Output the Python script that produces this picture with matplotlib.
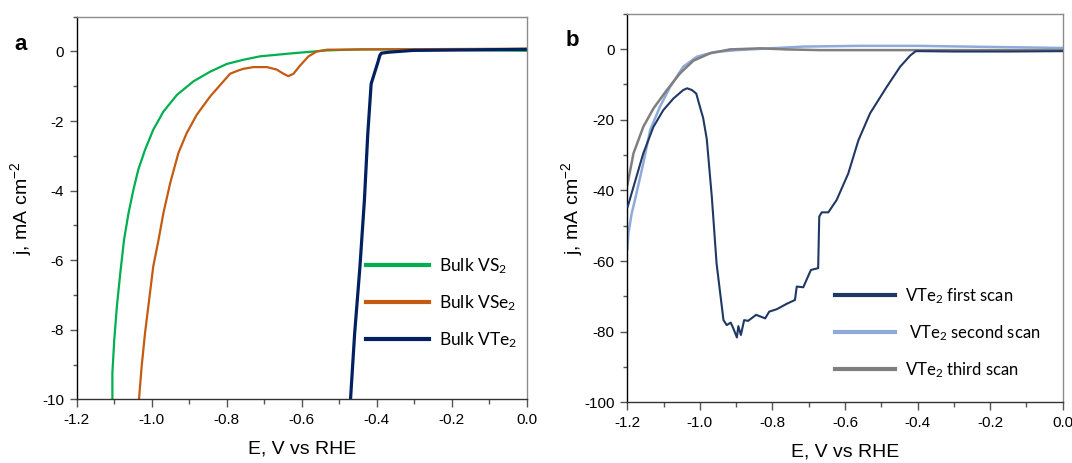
import matplotlib
matplotlib.use("Agg")
import matplotlib.pyplot as plt
from matplotlib.ticker import MultipleLocator, FormatStrFormatter

plt.rcParams['font.family'] = ['Liberation Sans', 'DejaVu Sans']
plt.rcParams['mathtext.default'] = 'regular'
plt.rcParams['axes.unicode_minus'] = False

# ---- panel a: bulk VX2 polarisation curves ----
vs2_E = [-1.105, -1.105, -1.100, -1.093, -1.084, -1.074, -1.062, -1.049, -1.036, -1.018,
         -0.996, -0.969, -0.933, -0.889, -0.844, -0.800, -0.756, -0.711, -0.622, -0.533,
         -0.445, -0.300, -0.150, 0.0]
vs2_j = [-10.0, -9.25, -8.29, -7.33, -6.38, -5.42, -4.65, -3.98, -3.40, -2.83,
         -2.25, -1.73, -1.25, -0.86, -0.58, -0.36, -0.24, -0.14, -0.05, 0.03,
         0.06, 0.06, 0.04, 0.02]

vse2_E = [-1.034, -1.027, -1.018, -1.007, -0.996, -0.982, -0.969, -0.951, -0.929, -0.907,
          -0.880, -0.844, -0.809, -0.791, -0.770, -0.756, -0.729, -0.693, -0.667, -0.649,
          -0.636, -0.622, -0.604, -0.582, -0.560, -0.533, -0.400, -0.200, 0.0]
vse2_j = [-10.0, -9.06, -8.10, -7.14, -6.18, -5.42, -4.65, -3.79, -2.92, -2.35,
          -1.82, -1.29, -0.86, -0.64, -0.55, -0.50, -0.45, -0.45, -0.52, -0.64,
          -0.71, -0.64, -0.40, -0.14, 0.0, 0.05, 0.06, 0.07, 0.08]

vte2_E = [-0.470, -0.459, -0.445, -0.433, -0.424, -0.415, -0.404, -0.397, -0.392, -0.388,
          -0.367, -0.303, 0.0]
vte2_j = [-10.0, -8.11, -6.2, -4.28, -2.37, -0.93, -0.55, -0.31, -0.12, -0.05,
          -0.02, 0.03, 0.06]

# ---- panel b: VTe2 repeated scans ----
scan1_E = [-1.199, -1.183, -1.156, -1.128, -1.101, -1.073, -1.055, -1.046, -1.035, -1.022,
           -1.010, -1.000, -0.991, -0.981, -0.967, -0.954, -0.935, -0.926, -0.915, -0.908,
           -0.898, -0.894, -0.887, -0.878, -0.867, -0.845, -0.820, -0.809, -0.788, -0.761,
           -0.738, -0.733, -0.715, -0.694, -0.674, -0.671, -0.664, -0.646, -0.623, -0.591,
           -0.563, -0.531, -0.485, -0.448, -0.420, -0.405, -0.390, -0.300, -0.150, 0.0]
scan1_j = [-44.6, -39.0, -29.5, -22.0, -17.3, -14.0, -12.4, -11.6, -11.1, -11.6,
           -12.6, -16.3, -19.5, -25.5, -42.0, -60.7, -76.7, -78.1, -77.4, -79.0,
           -81.6, -78.4, -80.9, -76.7, -76.9, -75.2, -76.2, -74.3, -73.6, -72.1,
           -71.0, -67.2, -67.4, -62.5, -62.0, -47.4, -46.2, -46.2, -42.7, -35.2,
           -25.8, -18.2, -10.7, -5.0, -1.8, -0.6, -0.6, -0.7, -0.7, -0.6]

scan2_E = [-1.200, -1.197, -1.188, -1.179, -1.156, -1.137, -1.110, -1.082, -1.046, -1.009,
           -0.963, -0.898, -0.807, -0.715, -0.559, -0.400, -0.200, 0.0]
scan2_j = [-56.7, -52.1, -46.5, -42.7, -32.3, -22.9, -16.3, -10.7, -5.0, -2.2,
           -0.9, -0.3, 0.2, 0.7, 0.9, 0.9, 0.6, 0.3]

scan3_E = [-1.200, -1.183, -1.156, -1.128, -1.091, -1.055, -1.018, -0.972, -0.917, -0.834,
           -0.761, -0.669, -0.400, 0.0]
scan3_j = [-38.5, -29.5, -22.0, -16.8, -11.6, -6.9, -3.3, -1.2, -0.1, 0.2,
           -0.1, -0.3, -0.3, -0.3]

fig = plt.figure(figsize=(10.72, 4.63), dpi=100)
ax_a = fig.add_axes([0.0716, 0.1376, 0.4198, 0.8264])
ax_b = fig.add_axes([0.5852, 0.1307, 0.4061, 0.8397])

ax_a.plot(vs2_E, vs2_j, color='#00b050', lw=1.6, label='Bulk VS$_2$')
ax_a.plot(vse2_E, vse2_j, color='#c55a11', lw=1.6, label='Bulk VSe$_2$')
ax_a.plot(vte2_E, vte2_j, color='#002060', lw=2.3, label='Bulk VTe$_2$')

ax_b.plot(scan1_E, scan1_j, color='#203864', lw=1.5, label='VTe$_2$ first scan', zorder=3)
ax_b.plot(scan2_E, scan2_j, color='#8eaadb', lw=1.8, label=' VTe$_2$ second scan', zorder=2)
ax_b.plot(scan3_E, scan3_j, color='#7f7f7f', lw=1.8, label='VTe$_2$ third scan', zorder=2)

ax_a.set_xlim(-1.2, 0.0)
ax_a.set_ylim(-10, 1)
ax_a.yaxis.set_major_locator(MultipleLocator(2))
ax_a.yaxis.set_minor_locator(MultipleLocator(1))
ax_b.set_xlim(-1.2, 0.0)
ax_b.set_ylim(-100, 10)
ax_b.yaxis.set_major_locator(MultipleLocator(20))
ax_b.yaxis.set_minor_locator(MultipleLocator(10))

for ax in (ax_a, ax_b):
    ax.xaxis.set_major_locator(MultipleLocator(0.2))
    ax.xaxis.set_minor_locator(MultipleLocator(0.1))
    ax.xaxis.set_major_formatter(FormatStrFormatter('%.1f'))
    ax.tick_params(which='both', direction='out', top=False, right=False,
                   labelsize=11, colors='#555555', labelcolor='black')
    ax.tick_params(axis='x', which='major', length=6, width=1, pad=4)
    ax.tick_params(axis='x', which='minor', length=3.5, width=1)
    ax.tick_params(axis='y', which='major', length=5, width=1, pad=4)
    ax.tick_params(axis='y', which='minor', length=3, width=1)
    ax.spines['left'].set_color('black')
    ax.spines['bottom'].set_color('#333333')
    ax.spines['top'].set_color('#8c8c8c')
    ax.spines['right'].set_color('#8c8c8c')
    for s in ax.spines.values():
        s.set_linewidth(1.0)
    ax.set_xlabel('E, V vs RHE', fontsize=14)
    ax.set_ylabel('j, mA cm$^{-2}$', fontsize=14)

ax_a.xaxis.set_label_coords(0.5, -0.108)
ax_b.xaxis.set_label_coords(0.5, -0.106)
ax_a.yaxis.set_label_coords(-0.095, 0.5)
ax_b.yaxis.set_label_coords(-0.098, 0.5)

leg_a = ax_a.legend(loc='upper left', bbox_to_anchor=(0.643, 0.375), frameon=False,
                    prop={'family': 'Lato', 'size': 12.5}, handlelength=3.6,
                    handletextpad=0.6, labelspacing=1.0, borderpad=0, borderaxespad=0)
for ln in leg_a.get_lines():
    ln.set_linewidth(3)

leg_b = ax_b.legend(loc='upper left', bbox_to_anchor=(0.477, 0.30), frameon=False,
                    prop={'family': 'Lato', 'size': 12}, handlelength=3.6,
                    handletextpad=0.6, labelspacing=1.05, borderpad=0, borderaxespad=0)
for ln in leg_b.get_lines():
    ln.set_linewidth(3)

fig.text(0.019, 0.903, 'a', fontsize=16, fontweight='bold', ha='center', va='center')
fig.text(0.534, 0.912, 'b', fontsize=16, fontweight='bold', ha='center', va='center')

fig.savefig('out.png', dpi=100)
